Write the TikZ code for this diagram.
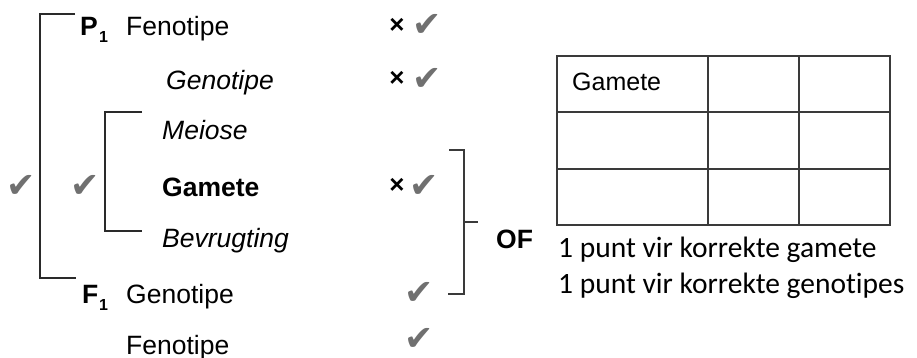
\documentclass[tikz,border=0pt]{standalone}
\usepackage{fontspec}
\setmainfont{Liberation Sans}
\newfontfamily\calfont[Ligatures=NoCommon]{Carlito}
\newfontfamily\symfont{DejaVu Sans}
\definecolor{chk}{HTML}{707070}
\definecolor{brkcol}{HTML}{2A2A2A}
\definecolor{tabcol}{HTML}{3A3A3A}
\tikzset{
  lbl/.style={anchor=base west, inner sep=0pt, font=\fontsize{26.5}{30}\selectfont},
  ital/.style={anchor=base west, inner sep=0pt, font=\fontsize{26.5}{30}\selectfont\itshape},
  bld/.style={anchor=base west, inner sep=0pt, font=\fontsize{26.5}{30}\selectfont\bfseries},
  subl/.style={anchor=base west, inner sep=0pt, font=\fontsize{16}{16}\selectfont\bfseries},
  chkmark/.style={anchor=base, inner sep=0pt, text height=0.7em, text depth=0pt, text=chk, font=\symfont\fontsize{35}{35}\selectfont},
  crossmark/.style={inner sep=0pt, font=\fontsize{26}{26}\selectfont\bfseries},
  note/.style={anchor=base west, inner sep=0pt, font=\calfont\fontsize{29.5}{33}\selectfont},
  brk/.style={line width=1.3pt, color=brkcol},
  brkr/.style={line width=1.5pt, color=tabcol},
  tab/.style={line width=1.5pt, color=tabcol},
}
\begin{document}
\begin{tikzpicture}[x=1pt,y=-1pt]
\useasboundingbox (0,0) rectangle (917,358);
% labels
\node[bld] (p) at (80,36) {P};
\node[subl] (p1) at (99,43) {1};
\node[lbl] (fen1) at (126,36) {Fenotipe};
\node[ital] (gen1) at (166,90) {Genotipe};
\node[ital] (mei) at (162,140) {Meiose};
\node[bld] (gam) at (162,196) {Gamete};
\node[ital] (bev) at (162,247) {Bevrugting};
\node[bld] (f) at (82,303) {F};
\node[subl] (f1) at (99,310) {1};
\node[lbl] (gen2) at (126,303) {Genotipe};
\node[lbl] (fen2) at (126,354) {Fenotipe};
% marks
\node[crossmark] (x1) at (397,26) {×};
\node[chkmark] (c1) at (427,37) {✔};
\node[crossmark] (x2) at (397,79) {×};
\node[chkmark] (c2) at (427,91) {✔};
\node[crossmark] (x3) at (397,186) {×};
\node[chkmark] (c3) at (424,197) {✔};
\node[chkmark] (c4) at (419,304) {✔};
\node[chkmark] (c5) at (419,350) {✔};
\node[chkmark] (cl1) at (21,197) {✔};
\node[chkmark] (cl2) at (85,197) {✔};
% brackets
\coordinate (ot) at (75,14);
\coordinate (ob) at (76,278);
\draw[brk] (ot) -- (40,14) -- (40,278) -- (ob);
\coordinate (it) at (142,112);
\coordinate (ib) at (142,231);
\draw[brk] (it) -- (105,112) -- (105,231) -- (ib);
\coordinate (rt) at (449,150);
\coordinate (rb) at (448,294);
\coordinate (rm) at (478,222);
\draw[brkr] (rt) -- (464,150) -- (464,294) -- (rb);
\draw[brkr] (464,222) -- (rm);
\node[bld] (of) at (496,248) {OF};
% table
\draw[tab] (557,56) rectangle (890,225);
\draw[tab] (557,112) -- (890,112);
\draw[tab] (557,169) -- (890,169);
\draw[tab] (708,56) -- (708,225);
\draw[tab] (799,56) -- (799,225);
\node[anchor=base west, inner sep=0pt, font=\fontsize{25}{28}\selectfont] (tg) at (572,91) {Gamete};
% notes
\node[note] (n1) at (558,257) {1 punt vir korrekte gamete};
\node[note] (n2) at (558,293) {1 punt vir korrekte genotipes};
\end{tikzpicture}
\end{document}
